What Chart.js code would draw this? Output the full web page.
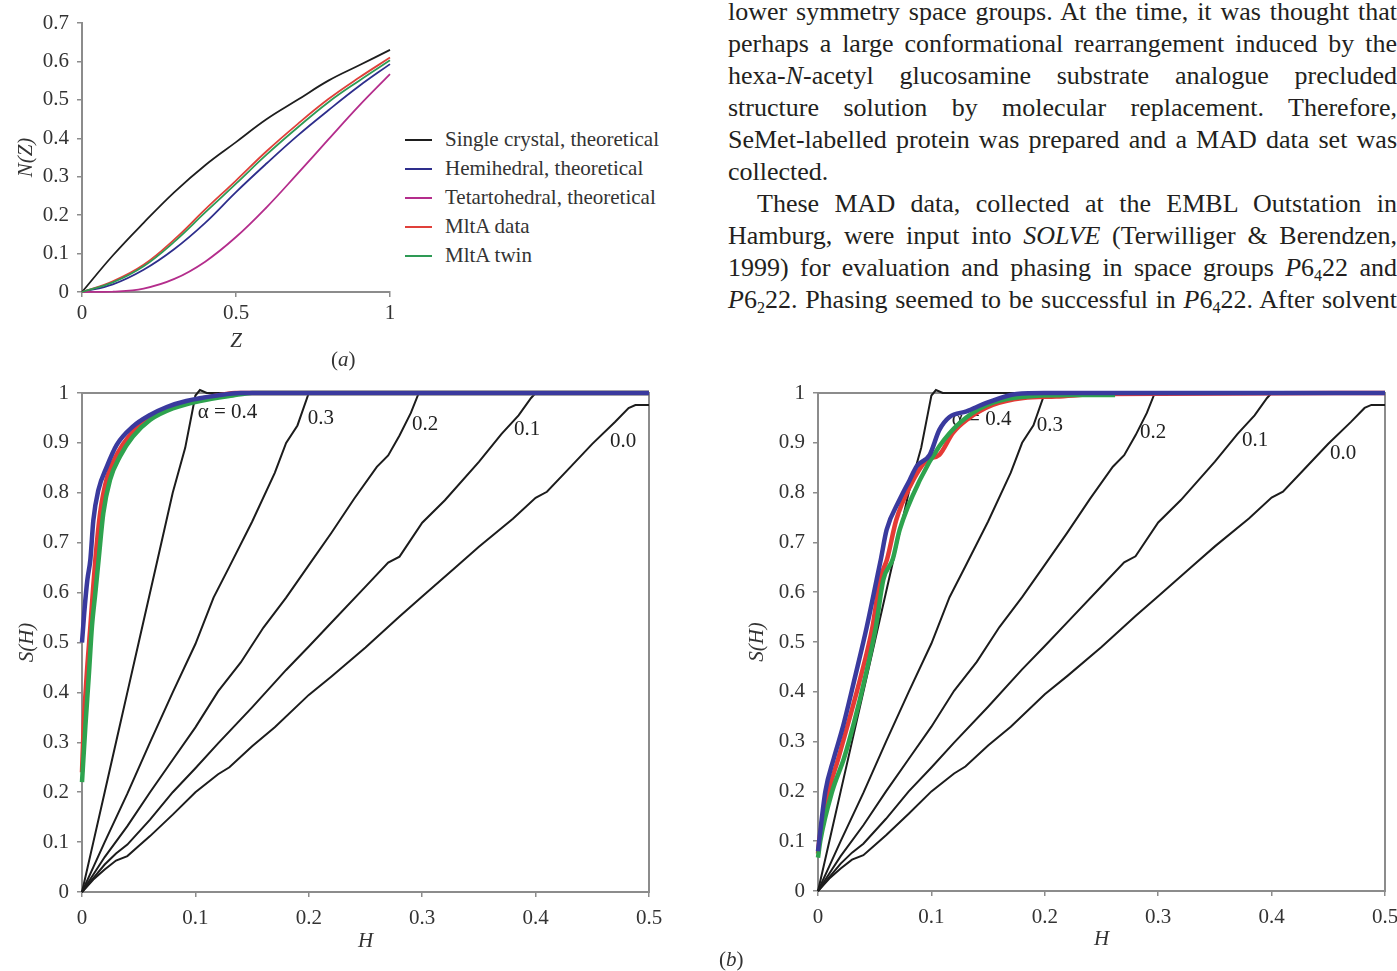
<!DOCTYPE html>
<html>
<head>
<meta charset="utf-8">
<script src="https://cdn.jsdelivr.net/npm/chart.js@4.4.1/dist/chart.umd.min.js"></script>
<style>
  html, body { margin: 0; padding: 0; background: #fff; }
  body { width: 1397px; height: 971px; position: relative; overflow: hidden;
         font-family: 'Liberation Serif', 'Times New Roman', serif; color: #222; }
  canvas { position: absolute; }
  #chartA { left: 0; top: 0; }
  #chartL { left: 0; top: 380px; }
  #chartR { left: 700px; top: 380px; }
  .txt { position: absolute; left: 728px; top: -4px; width: 669px; font-size: 26px; line-height: 32px; color: #231f20; }
  .ln { text-align: justify; text-align-last: justify; height: 32px; }
  .ln.last { text-align-last: left; }
  .ind { padding-left: 29px; }
  sub { font-size: 0.62em; line-height: 0; vertical-align: -0.3em; }
  #legendA { position: absolute; left: 405px; top: 125px; font-size: 21px; color: #333; }
  #legendA div { height: 29px; display: flex; align-items: center; white-space: nowrap; }
  #legendA .sw { display: inline-block; width: 27px; height: 2px; margin-right: 13px; }
  .cap { position: absolute; font-size: 21px; color: #333; }
</style>
</head>
<body>

<div class="txt">
  <div class="ln">lower symmetry space groups. At the time, it was thought that</div>
  <div class="ln">perhaps a large conformational rearrangement induced by the</div>
  <div class="ln">hexa-<i>N</i>-acetyl glucosamine substrate analogue precluded</div>
  <div class="ln">structure solution by molecular replacement. Therefore,</div>
  <div class="ln">SeMet-labelled protein was prepared and a MAD data set was</div>
  <div class="ln last">collected.</div>
  <div class="ln ind">These MAD data, collected at the EMBL Outstation in</div>
  <div class="ln">Hamburg, were input into <i>SOLVE</i> (Terwilliger &amp; Berendzen,</div>
  <div class="ln">1999) for evaluation and phasing in space groups <i>P</i>6<sub>4</sub>22 and</div>
  <div class="ln"><i>P</i>6<sub>2</sub>22. Phasing seemed to be successful in <i>P</i>6<sub>4</sub>22. After solvent</div>
</div>

<canvas id="chartA" width="400" height="365"></canvas>
<div id="legendA"></div>
<div class="cap" style="left:331px; top:347px;">(<i>a</i>)</div>

<canvas id="chartL" width="700" height="591"></canvas>
<canvas id="chartR" width="697" height="591"></canvas>
<div class="cap" style="left:719px; top:947px;">(<i>b</i>)</div>

<script>
// ── Data: (a) cumulative intensity distribution N(Z) ─────────────
const zValues = [0, 0.1, 0.2, 0.3, 0.4, 0.5, 0.6, 0.7, 0.8, 0.9, 1];
const singleCrystal = [0, 0.095, 0.18, 0.26, 0.33, 0.39, 0.45, 0.50, 0.55, 0.59, 0.63];
const hemihedral    = [0, 0.02, 0.058, 0.112, 0.18, 0.26, 0.335, 0.407, 0.473, 0.536, 0.593];
const tetartohedral = [0, 0.001, 0.009, 0.034, 0.079, 0.143, 0.221, 0.308, 0.397, 0.485, 0.567];
const mltaData      = [0, 0.028, 0.071, 0.137, 0.215, 0.29, 0.367, 0.437, 0.502, 0.558, 0.61];
const mltaTwin      = [0, 0.025, 0.067, 0.131, 0.207, 0.282, 0.358, 0.428, 0.494, 0.55, 0.603];

const seriesLabelsA = ['Single crystal, theoretical', 'Hemihedral, theoretical',
  'Tetartohedral, theoretical', 'MltA data', 'MltA twin'];
const seriesValuesA = [singleCrystal, hemihedral, tetartohedral, mltaData, mltaTwin];
const seriesColorsA = ['#1e1e1e', '#2e2e8c', '#b42d8c', '#e0403a', '#2e9a55'];

// ── Data: (b) Britton plots S(H), [H, S] pairs ───────────────────
const alpha00 = [[0,0],[0.01,0.025],[0.02,0.045],[0.03,0.063],[0.04,0.072],[0.05,0.092],[0.06,0.112],
  [0.08,0.155],[0.1,0.2],[0.12,0.236],[0.13,0.25],[0.15,0.292],[0.17,0.33],[0.2,0.395],[0.22,0.432],
  [0.25,0.49],[0.28,0.552],[0.3,0.592],[0.33,0.652],[0.35,0.692],[0.38,0.748],[0.4,0.79],[0.41,0.802],
  [0.43,0.85],[0.45,0.898],[0.47,0.942],[0.482,0.97],[0.488,0.976],[0.5,0.976]];
const alpha01 = [[0,0],[0.01,0.028],[0.02,0.055],[0.03,0.077],[0.04,0.095],[0.06,0.145],[0.08,0.2],
  [0.1,0.248],[0.12,0.298],[0.15,0.37],[0.18,0.445],[0.2,0.492],[0.22,0.54],[0.25,0.612],[0.27,0.66],
  [0.28,0.672],[0.3,0.74],[0.32,0.785],[0.35,0.862],[0.37,0.918],[0.385,0.955],[0.396,0.99],[0.4,1],[0.5,1]];
const alpha02 = [[0,0],[0.01,0.035],[0.02,0.07],[0.04,0.132],[0.06,0.2],[0.08,0.265],[0.1,0.33],
  [0.12,0.402],[0.14,0.46],[0.16,0.53],[0.18,0.59],[0.2,0.655],[0.22,0.72],[0.24,0.788],[0.26,0.852],
  [0.27,0.875],[0.28,0.915],[0.29,0.96],[0.297,1],[0.5,1]];
const alpha03 = [[0,0],[0.01,0.05],[0.02,0.1],[0.04,0.197],[0.06,0.3],[0.08,0.4],[0.1,0.497],
  [0.116,0.59],[0.13,0.652],[0.15,0.742],[0.17,0.84],[0.18,0.9],[0.19,0.935],[0.2,1],[0.5,1]];
const alpha04 = [[0,0],[0.01,0.1],[0.02,0.2],[0.031,0.31],[0.04,0.4],[0.05,0.5],[0.066,0.66],
  [0.08,0.8],[0.091,0.89],[0.097,0.96],[0.1,0.995],[0.104,1.006],[0.11,1],[0.5,1]];
const alphaCurves = [alpha04, alpha03, alpha02, alpha01, alpha00];

// left panel, observed data
const leftBlue = [[0,0.5],[0.002,0.56],[0.0047,0.625],[0.0074,0.667],[0.01,0.745],[0.0144,0.805],
  [0.0218,0.852],[0.0306,0.896],[0.045,0.933],[0.06,0.956],[0.0747,0.972],[0.092,0.984],
  [0.119,0.995],[0.14,1],[0.5,1]];
const leftRed = [[0,0.24],[0.0015,0.333],[0.004,0.43],[0.0074,0.533],[0.0095,0.6],[0.0118,0.667],
  [0.016,0.76],[0.022,0.83],[0.031,0.878],[0.043,0.918],[0.058,0.95],[0.078,0.972],[0.1,0.986],
  [0.125,0.997],[0.135,1],[0.5,1]];
const leftGreen = [[0,0.22],[0.003,0.333],[0.006,0.433],[0.0088,0.533],[0.0118,0.6],[0.0147,0.667],
  [0.0188,0.759],[0.0247,0.826],[0.0335,0.873],[0.045,0.913],[0.06,0.946],[0.08,0.969],[0.104,0.984],
  [0.133,0.995],[0.15,1],[0.5,1]];

// right panel, observed data
const rightBlue = [[0,0.08],[0.001,0.1],[0.0065,0.2],[0.014,0.267],[0.022,0.33],[0.033,0.433],
  [0.043,0.53],[0.0517,0.625],[0.0555,0.667],[0.0605,0.725],[0.072,0.786],[0.081,0.826],[0.087,0.853],
  [0.0985,0.876],[0.107,0.926],[0.116,0.952],[0.131,0.963],[0.1485,0.98],[0.175,0.998],[0.2,1],[0.5,1]];
const rightRed = [[0,0.075],[0.001,0.1],[0.0095,0.2],[0.018,0.267],[0.027,0.34],[0.038,0.433],
  [0.048,0.53],[0.0547,0.625],[0.061,0.667],[0.069,0.745],[0.081,0.812],[0.0958,0.865],[0.107,0.876],
  [0.119,0.92],[0.131,0.946],[0.154,0.976],[0.181,0.99],[0.21,0.993],[0.25,0.998],[0.5,1]];
const rightGreen = [[0,0.067],[0.002,0.1],[0.0125,0.2],[0.023,0.267],[0.032,0.34],[0.042,0.433],
  [0.051,0.53],[0.0576,0.625],[0.066,0.667],[0.072,0.725],[0.09,0.826],[0.107,0.893],[0.125,0.94],
  [0.149,0.976],[0.175,0.991],[0.225,0.996],[0.262,0.996]];

// curve annotations (text, H, S)
const leftLabels = [['α = 0.4', 0.102, 0.96], ['0.3', 0.199, 0.948], ['0.2', 0.291, 0.936],
  ['0.1', 0.381, 0.926], ['0.0', 0.4656, 0.902]];
const rightLabels = [['α = 0.4', 0.118, 0.946], ['0.3', 0.193, 0.934], ['0.2', 0.284, 0.92],
  ['0.1', 0.374, 0.904], ['0.0', 0.4515, 0.878]];

// ── Shared styling ────────────────────────────────────────────────
const SERIF = "'Liberation Serif', 'Times New Roman', serif";
const AXIS_GRAY = '#8c8c8c';
const font = (size, style) => ({ family: SERIF, size, style: style || 'normal' });

function linearAxis({ min, max, step, width, height, title, titlePad, tickPad }) {
  return {
    type: 'linear', min, max,
    ticks: {
      stepSize: step, color: '#333', font: font(21), padding: tickPad,
      callback: v => String(Math.round(v * 10) / 10),
    },
    grid: { drawOnChartArea: false, tickLength: 5, color: AXIS_GRAY, lineWidth: 1.5 },
    border: { color: AXIS_GRAY, width: 2 },
    title: { display: true, text: title, color: '#333', font: font(21, 'italic'),
             padding: width !== undefined ? { top: titlePad, bottom: 0 } : { top: 0, bottom: titlePad } },
    afterFit: s => {
      if (width !== undefined) s.width = width;
      if (height !== undefined) s.height = height;
      // keep the plot box where the layout padding puts it
      s.paddingTop = s.paddingBottom = s.paddingLeft = s.paddingRight = 0;
    },
  };
}

const curveLabelPlugin = {
  id: 'curveLabels',
  beforeDatasetsDraw(chart, args, opts) {
    const { ctx, scales: { x, y } } = chart;
    ctx.save();
    ctx.font = `21px ${SERIF}`;
    ctx.fillStyle = '#222';
    ctx.textAlign = 'left';
    ctx.textBaseline = 'middle';
    (opts.items || []).forEach(([text, h, s]) => {
      ctx.fillText(text, x.getPixelForValue(h), y.getPixelForValue(s));
    });
    ctx.restore();
  },
};

const framePlugin = {
  id: 'frame',
  beforeDatasetsDraw(chart) {
    const { ctx, chartArea: a } = chart;
    ctx.save();
    ctx.strokeStyle = AXIS_GRAY;
    ctx.lineWidth = 2;
    ctx.strokeRect(a.left, a.top, a.right - a.left, a.bottom - a.top);
    ctx.restore();
  },
};

// ── Chart (a) ─────────────────────────────────────────────────────
new Chart(document.getElementById('chartA').getContext('2d'), {
  type: 'line',
  data: {
    datasets: seriesValuesA.map((vals, i) => ({
      label: seriesLabelsA[i],
      data: vals.map((v, k) => ({ x: zValues[k], y: v })),
      borderColor: seriesColorsA[i],
      borderWidth: 1.8,
      pointRadius: 0,
      tension: 0.4,
      clip: false,
    })).reverse(),
  },
  options: {
    responsive: false,
    animation: false,
    layout: { padding: { top: 23, right: 10, left: 0, bottom: 0 } },
    scales: {
      x: linearAxis({ min: 0, max: 1, step: 0.5, height: 73, title: 'Z', titlePad: 11, tickPad: 4 }),
      y: linearAxis({ min: 0, max: 0.7, step: 0.1, width: 82, title: 'N(Z)', titlePad: 14, tickPad: 8 }),
    },
    plugins: { legend: { display: false }, tooltip: { enabled: false } },
  },
});

// HTML legend for (a)
const legendBox = document.getElementById('legendA');
seriesLabelsA.forEach((label, i) => {
  const row = document.createElement('div');
  row.innerHTML = `<span class="sw" style="background:${seriesColorsA[i]}"></span>${label}`;
  legendBox.appendChild(row);
});

// ── Charts (b) ────────────────────────────────────────────────────
function curve(pts, color, width, smooth) {
  return {
    data: pts.map(([h, s]) => ({ x: h, y: s })),
    borderColor: color,
    borderWidth: width,
    pointRadius: 0,
    tension: 0,
    cubicInterpolationMode: smooth ? 'monotone' : 'default',
    clip: false,
  };
}

function renderBritton(canvasId, blue, red, green, labels, geom) {
  const datasets = [
    curve(blue, '#3a3a9e', 4.5, true),
    curve(green, '#2ea34e', 4.5, true),
    curve(red, '#e53a35', 4.5, true),
    ...alphaCurves.map(pts => curve(pts, '#1c1c1c', 2, false)),
  ];
  return new Chart(document.getElementById(canvasId).getContext('2d'), {
    type: 'line',
    data: { datasets },
    options: {
      responsive: false,
      animation: false,
      layout: { padding: { top: 13, right: geom.right, left: 0, bottom: 0 } },
      scales: {
        x: linearAxis({ min: 0, max: 0.5, step: 0.1, height: geom.xHeight, title: 'H', titlePad: geom.xTitlePad, tickPad: 9 }),
        y: linearAxis({ min: 0, max: 1, step: 0.1, width: geom.yWidth, title: 'S(H)', titlePad: geom.yTitlePad, tickPad: 8 }),
      },
      plugins: {
        legend: { display: false },
        tooltip: { enabled: false },
        curveLabels: { items: labels },
      },
    },
    plugins: [framePlugin, curveLabelPlugin],
  });
}

renderBritton('chartL', leftBlue, leftRed, leftGreen, leftLabels,
  { right: 51, xHeight: 79, yWidth: 82, xTitlePad: 17, yTitlePad: 15 });
renderBritton('chartR', rightBlue, rightRed, rightGreen, rightLabels,
  { right: 12, xHeight: 80, yWidth: 118, xTitlePad: 19, yTitlePad: 45 });
</script>
</body>
</html>
